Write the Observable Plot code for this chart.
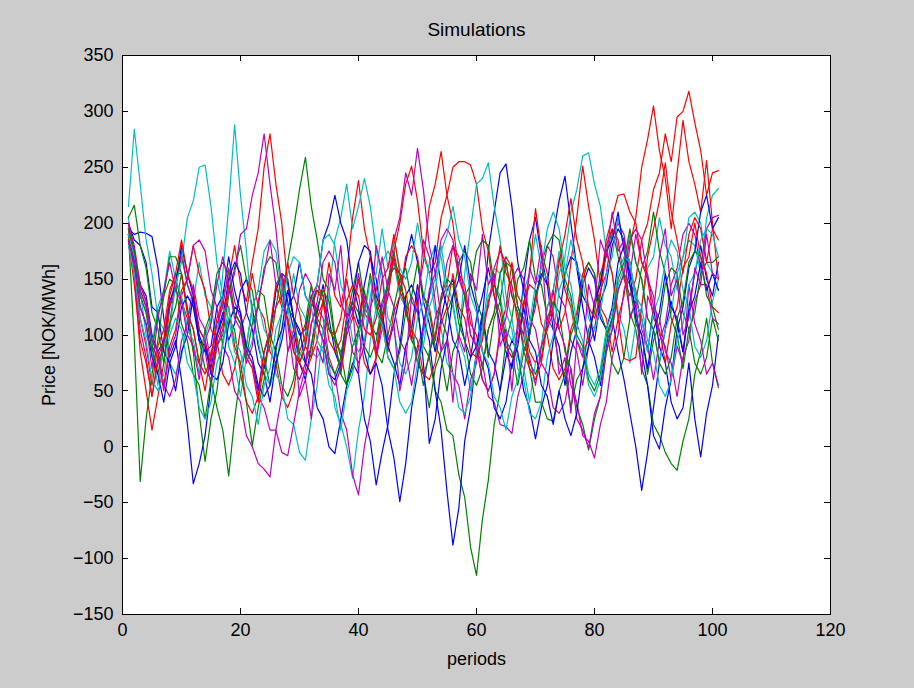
<!DOCTYPE html>
<html>
<head>
<meta charset="utf-8">
<script src="https://cdn.jsdelivr.net/npm/d3@7"></script>
<script src="https://cdn.jsdelivr.net/npm/@observablehq/plot@0.6"></script>
<style>
  html, body { margin: 0; padding: 0; background: #cccccc; }
  #chart { width: 914px; height: 688px; }
  svg { font-family: "Liberation Sans", Arial, sans-serif; }
</style>
</head>
<body>
<div id="chart"></div>
<script>
const title = "Simulations";
const xLabel = "periods";
const yLabel = "Price [NOK/MWh]";
const xTicks = [0, 20, 40, 60, 80, 100, 120];
const yTicks = [-150, -100, -50, 0, 50, 100, 150, 200, 250, 300, 350];
const colorOrder = ["#0000ff", "#008000", "#ff0000", "#00bfbf", "#bf00bf"];

// Series values for periods 1..101
const blue1 = [195,190,192,191,188,160,115,80,95,60, 20,-33,-15,10,55,100,120,95,110,140, 150,125,90,70,100,140,155,130,105,75, 60,90,120,145,115,85,70,105,130,110, 145,170,150,115,90,110,135,165,190,165, 130,110,85,115,140,150,120,95,80,115, 135,160,135,110,85,70,105,145,185,205, 170,145,190,220,242,200,160,125,95,80, 55,90,115,85,60,30,0,-39,-5,35, 75,105,130,110,85,125,155,180,150,135, 165];
const green1 = [200,175,140,125,90,65,95,110,150,170, 145,130,95,70,60,90,100,135,160,180, 150,140,105,80,55,85,120,165,195,230, 259,215,185,150,140,100,80,115,140,165, 130,120,85,75,100,125,150,160,130,120, 90,80,50,40,15,10,-25,-45,-90,-115, -65,-30,20,50,95,115,150,160,185,150, 145,115,105,75,65,35,60,70,105,120, 155,170,195,170,155,120,105,70,55,20, 10,-5,-15,-21,5,25,65,85,115,75, 53];
const red1 = [195,155,85,50,15,45,75,125,150,130, 115,85,75,50,85,100,135,150,180,145, 130,165,195,250,280,235,200,145,115,75, 65,80,115,130,165,135,125,155,205,238, 195,170,130,115,85,120,135,170,180,170, 135,125,95,130,145,180,155,145,110,100, 70,105,120,155,170,160,125,115,85,75, 90,125,140,170,140,125,95,85,95,130, 145,180,195,185,150,135,150,185,200,230, 245,280,255,295,300,318,290,265,225,245, 247];
const cyan1 = [215,284,235,185,155,115,105,75,65,80, 115,130,165,135,125,95,155,215,288,225, 175,115,95,65,55,70,105,120,155,125, 115,85,80,90,75,35,20,0,-28,15, 45,95,125,165,175,165,135,125,95,85, 100,135,150,180,145,130,95,80,50,85, 100,135,145,135,105,95,105,140,155,190, 160,150,120,155,170,210,230,260,263,235, 215,175,155,120,105,75,110,125,160,170, 205,180,170,140,170,185,180,155,205,225, 231];
const magenta1 = [190,155,105,80,45,75,90,125,140,175, 145,130,95,85,55,90,105,140,155,190, 195,225,245,280,235,195,140,110,70,60, 75,110,125,115,80,65,30,15,-25,-43, 0,30,80,105,145,165,155,120,105,75, 65,80,115,130,165,180,170,135,120,85, 75,45,40,20,18,12,45,65,105,125, 165,180,170,135,125,95,85,55,90,105, 140,155,190,200,190,155,140,105,90,60, 95,110,145,160,190,200,190,160,195,205, 207];

const blue2 = [190,170,145,135,100,85,95,130,145,180, 155,135,100,85,90,125,135,170,140,120, 85,75,50,85,100,140,155,150,115,100, 105,135,110,95,65,60,75,115,130,165, 180,175,135,120,90,75,55,90,105,145, 115,95,50,15,-40,-88,-55,5,35,85, 115,175,210,245,253,215,165,140,100,135, 155,145,105,90,55,85,105,145,160,150, 115,105,125,165,180,165,130,115,85,125, 90,75,40,25,35,75,25,-9,30,55, 100];
const green2 = [190,95,-31,25,65,95,135,150,145,110, 95,65,55,25,60,35,15,-26,25,65, 90,125,140,135,100,85,55,45,60,95, 110,145,115,105,75,65,80,115,130,120, 90,80,95,130,145,175,145,130,95,85, 55,85,100,135,150,145,110,95,65,55, 70,105,120,155,165,160,125,110,75,65, 80,115,130,120,85,70,35,20,-3,25, 45,85,105,140,155,145,110,100,65,95, 110,145,160,155,120,105,75,65,80,115, 95];
const red2 = [190,170,145,130,95,85,55,90,105,140, 150,180,155,140,105,95,65,55,70,105, 120,155,125,115,85,75,45,35,50,85, 100,135,145,135,105,100,115,150,120,105, 75,65,80,115,135,175,200,235,251,220, 175,155,165,205,225,250,255,255,252,235, 195,175,135,120,90,80,95,130,145,140, 110,100,70,60,70,105,120,155,165,155, 125,115,85,115,135,180,205,250,275,305, 265,240,195,245,292,255,235,210,256,200, 150];
const cyan2 = [205,165,140,100,85,55,90,105,145,165, 205,220,250,252,215,165,135,90,75,45, 80,95,130,105,95,65,55,25,20,-5, -12,25,55,105,135,185,205,235,195,215, 240,215,175,155,115,105,75,65,80,115, 130,165,180,170,135,125,95,155,195,235, 240,254,215,185,135,115,80,70,40,75, 90,125,140,175,145,130,95,85,55,45, 60,95,110,145,160,190,165,150,115,105, 75,105,120,155,170,205,210,200,165,155, 140];
const magenta2 = [195,175,140,125,90,80,50,85,100,135, 150,180,185,175,140,125,90,80,50,40, 10,0,-15,-20,-27,15,45,85,105,140, 155,145,110,95,65,55,70,105,120,155, 125,115,85,125,145,185,205,245,225,267, 230,180,155,115,100,65,55,25,60,75, 110,125,160,175,165,135,120,90,80,55, 90,105,140,105,90,55,40,10,5,-10, 20,40,80,100,140,155,190,165,155,125, 115,85,75,45,80,95,130,145,145,115, 110];

const blue3 = [200,185,180,165,125,120,85,75,50,85, 100,135,105,95,70,100,115,150,165,155, 120,105,75,65,40,75,95,125,135,165, 135,125,145,185,200,225,200,185,145,125, 85,65,75,55,15,-10,-49,-15,35,65, 110,135,180,145,125,95,85,55,80,90, 120,85,75,50,80,95,85,50,35,7, 35,55,95,115,155,170,165,135,125,95, 130,145,180,195,185,145,125,85,55,10, -2,35,60,105,125,160,175,210,225,195, 205];
const green3 = [205,216,180,160,120,105,75,110,125,155, 125,85,30,-13,25,50,95,115,105,65, 40,1,35,60,105,125,155,125,115,85, 75,90,125,140,130,95,85,55,90,105, 140,110,100,115,150,160,155,120,105,75, 65,35,70,85,120,135,165,175,165,130, 115,80,115,130,165,135,120,85,70,40, 40,25,23,50,65,100,115,150,165,155, 120,105,75,65,80,115,130,160,175,210, 175,155,115,100,70,105,120,155,165,165, 170];
const red3 = [200,165,115,90,55,90,105,140,155,185, 155,140,105,95,65,95,110,145,120,110, 80,70,40,75,90,125,135,165,135,120, 90,80,95,130,105,95,65,100,115,150, 120,110,80,115,135,170,140,125,95,135, 165,215,235,264,225,200,155,135,100,90, 60,50,65,105,125,165,135,125,155,213, 175,155,115,105,120,165,205,251,215,185, 145,185,205,225,226,210,200,165,150,115, 105,75,110,125,160,170,200,170,155,125, 120];
const cyan3 = [190,170,135,120,90,125,140,175,150,135, 105,95,65,100,115,150,125,115,85,75, 90,125,140,175,185,175,140,125,90,80, 95,130,145,185,190,180,145,130,95,85, 95,135,155,195,160,185,160,150,165,200, 170,155,120,105,75,65,35,30,45,85, 105,145,160,155,120,105,70,60,30,25, 40,80,100,140,155,185,160,150,115,105, 120,155,170,205,180,165,130,115,85,120, 135,165,185,175,140,125,90,80,95,130, 150];
const magenta3 = [200,180,145,130,95,85,55,45,60,95, 110,145,115,105,75,110,125,160,130,115, 85,75,45,35,15,15,-5,-8,20,50, 70,110,130,165,175,165,130,115,85,75, 90,125,140,170,140,125,95,85,55,90, 105,140,155,185,195,185,150,135,100,90, 60,50,65,100,115,150,160,150,115,105, 75,65,35,30,40,70,25,15,-1,30, 45,85,105,140,155,185,195,185,150,135, 100,90,60,90,75,145,110,95,65,75, 55];

const blue4 = [185,165,125,110,80,65,40,75,90,125, 135,125,95,90,65,60,75,110,125,120, 90,80,55,45,55,90,105,140,115,105, 75,65,35,25,0,-6,25,55,75,65, 25,5,-34,-5,20,65,90,135,145,130, 75,3,25,70,95,135,150,180,145,125, 85,70,35,25,40,75,90,125,95,85, 55,45,20,50,25,10,30,70,90,130, 145,175,185,210,175,155,115,100,70,105, 120,155,125,115,85,120,135,165,140,155, 140];
const green4 = [195,175,135,120,85,120,135,170,170,155, 120,105,75,105,120,155,165,155,120,110, 80,110,125,160,170,165,130,115,85,75, 90,125,140,135,105,95,65,55,70,105, 120,155,125,110,80,70,85,120,135,165, 135,120,90,80,50,85,100,135,145,175, 185,180,145,130,95,85,55,85,100,135, 150,180,190,185,150,135,100,90,60,50, 65,100,115,150,165,195,165,150,115,105, 75,65,80,115,130,165,175,170,135,125, 105];
const red4 = [185,145,95,75,45,80,95,135,155,155, 120,105,75,65,80,115,130,125,90,75, 40,30,45,85,105,145,125,115,85,75, 90,125,140,130,95,85,95,130,145,135, 105,100,115,150,160,190,155,140,105,95, 65,60,75,110,125,155,125,115,85,80, 95,130,145,180,155,145,110,100,70,60, 75,110,125,165,190,222,185,165,125,115, 135,175,155,115,79,77,80,125,170,195, 220,254,210,185,155,190,205,195,165,195, 185];
const cyan4 = [180,155,115,95,60,50,65,100,115,105, 75,65,35,25,40,75,90,125,95,85, 55,45,20,55,70,105,120,155,170,165, 135,125,95,85,55,45,15,50,65,100, 115,150,120,110,80,70,40,30,40,75, 90,125,140,175,190,215,185,170,135,120, 85,75,45,35,15,45,60,95,110,145, 160,195,210,195,160,145,110,95,65,55, 70,105,120,155,170,165,135,125,95,85, 55,45,60,95,110,145,155,185,195,190, 170];
const magenta4 = [185,165,125,110,70,115,140,165,140,130, 100,90,60,95,110,145,170,145,115,105, 75,90,130,155,185,145,155,85,100,45, 60,25,90,75,155,140,180,115,125,65, 135,120,180,155,95,110,50,75,135,120, 185,170,130,85,95,40,100,85,155,140, 190,145,155,90,105,50,115,100,160,145, 180,105,120,65,80,30,95,80,145,125, 185,170,210,175,185,115,130,65,135,120, 170,195,135,150,100,115,160,145,190,155, 150];

const seriesList = [
  blue1, green1, red1, cyan1, magenta1,
  blue2, green2, red2, cyan2, magenta2,
  blue3, green3, red3, cyan3, magenta3,
  blue4, green4, red4, cyan4, magenta4
];

const bad = seriesList.map((s, i) => [i, s.length]).filter(d => d[1] !== 101);
if (bad.length) throw new Error("bad lengths: " + JSON.stringify(bad));

const W = 914, H = 688;
const mL = 122, mR = 84, mT = 55, mB = 74;
const frameW = W - mL - mR, frameH = H - mT - mB;
const tickLen = 6;
const font = 18;

const lineMarks = seriesList.map((vals, i) =>
  Plot.line(vals.map((v, k) => ({period: k + 1, price: v})), {
    x: "period", y: "price",
    stroke: colorOrder[i % colorOrder.length], strokeWidth: 1.2
  })
);

const chart = Plot.plot({
  width: W, height: H,
  marginLeft: mL, marginRight: mR, marginTop: mT, marginBottom: mB,
  style: {background: "transparent", color: "#000", fontFamily: "Liberation Sans, Arial, sans-serif"},
  x: {domain: [0, 120], ticks: xTicks},
  y: {domain: [-150, 350], ticks: yTicks},
  marks: [
    Plot.frame({fill: "white"}),
    ...lineMarks,
    Plot.ruleX(xTicks, {stroke: "#000", insetTop: frameH - tickLen, shapeRendering: "crispEdges"}),
    Plot.ruleX(xTicks, {stroke: "#000", insetBottom: frameH - tickLen, shapeRendering: "crispEdges"}),
    Plot.ruleY(yTicks, {stroke: "#000", insetRight: frameW - tickLen, shapeRendering: "crispEdges"}),
    Plot.ruleY(yTicks, {stroke: "#000", insetLeft: frameW - tickLen, shapeRendering: "crispEdges"}),
    Plot.frame({stroke: "#000", strokeWidth: 1, shapeRendering: "crispEdges"}),
    Plot.axisX({ticks: xTicks, tickSize: 0, tickPadding: 9, fontSize: font,
      label: xLabel, labelAnchor: "center", labelOffset: 50, labelArrow: "none"}),
    Plot.axisY({ticks: yTicks, tickSize: 0, tickPadding: 9, fontSize: font,
      label: yLabel, labelAnchor: "center", labelOffset: 80, labelArrow: "none"}),
    Plot.text([title], {frameAnchor: "top", dy: -33, fontSize: 19})
  ]
});
document.getElementById("chart").appendChild(chart);
</script>
</body>
</html>
